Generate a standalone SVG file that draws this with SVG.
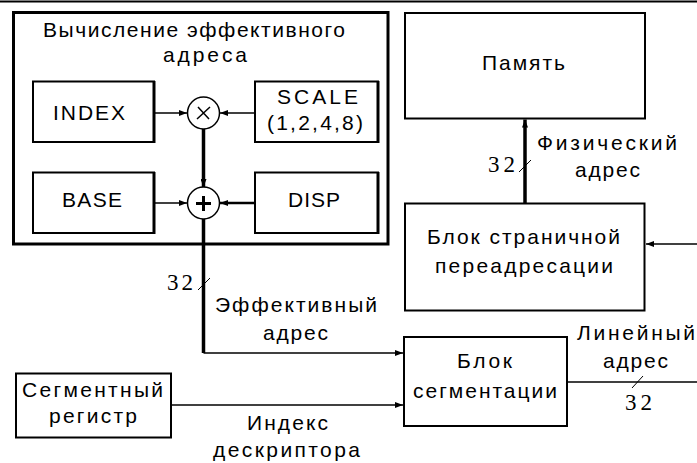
<svg xmlns="http://www.w3.org/2000/svg" width="697" height="463" viewBox="0 0 697 463">
<style>
text{font-family:"Liberation Sans",Arial,sans-serif;font-size:21px;fill:#000}
text.n{font-family:"Liberation Serif","Times New Roman",serif;font-size:23px}
.box{fill:#fff;stroke:#000;stroke-width:2}
.thin{fill:none;stroke:#000;stroke-width:1.5}
.thick{fill:none;stroke:#000;stroke-width:3.5}
.tick{fill:none;stroke:#000;stroke-width:1}
</style>
<defs>
<marker id="ah" viewBox="0 0 8 6" refX="8" refY="3" markerWidth="8" markerHeight="6" markerUnits="userSpaceOnUse" orient="auto">
<path d="M0,0 L8,3 L0,6 Z" fill="#000"/>
</marker>
</defs>
<rect width="697" height="463" fill="#fff"/>
<line x1="0" y1="1.5" x2="697" y2="1.5" stroke="#000" stroke-width="2"/>

<g id="ea">
<rect x="13.5" y="12.5" width="374.5" height="231.5" fill="none" stroke="#000" stroke-width="3"/>
<text x="43" y="37" textLength="302" lengthAdjust="spacing">Вычисление эффективного</text>
<text x="163" y="62" textLength="84" lengthAdjust="spacing">адреса</text>
</g>
<g id="index">
<rect class="box" x="33" y="81.5" width="121" height="60.5"/>
<line x1="154" y1="81" x2="154" y2="143" stroke="#000" stroke-width="3"/>
<text x="53" y="120" textLength="72" lengthAdjust="spacing">INDEX</text>
</g>
<g id="scale">
<rect class="box" x="255" y="81.5" width="123" height="60.5"/>
<line x1="378" y1="81" x2="378" y2="143" stroke="#000" stroke-width="3"/>
<text x="277" y="104" textLength="81" lengthAdjust="spacing">SCALE</text>
<text x="267" y="130" textLength="96" lengthAdjust="spacing">(1,2,4,8)</text>
</g>
<g id="base">
<rect class="box" x="33" y="172.5" width="121" height="60.5"/>
<line x1="154" y1="172" x2="154" y2="234" stroke="#000" stroke-width="3"/>
<text x="62" y="207" textLength="60" lengthAdjust="spacing">BASE</text>
</g>
<g id="disp">
<rect class="box" x="255" y="172.5" width="123" height="60.5"/>
<line x1="378" y1="172" x2="378" y2="234" stroke="#000" stroke-width="3"/>
<text x="288" y="207" textLength="52" lengthAdjust="spacing">DISP</text>
</g>
<g id="mul">
<circle cx="203.5" cy="113" r="16" fill="#fff" stroke="#000" stroke-width="1.5"/>
<path d="M197,119 L210,107 M198,107 L209,119" fill="none" stroke="#000" stroke-width="1.5"/>
</g>
<g id="add">
<circle cx="203.5" cy="203" r="16" fill="#fff" stroke="#000" stroke-width="1.5"/>
<path d="M196,203.5 L211,203.5 M203.5,196 L203.5,211" fill="none" stroke="#000" stroke-width="3"/>
</g>
<g id="mem">
<rect class="box" x="405" y="13" width="240" height="105.5"/>
<text x="482" y="70" textLength="83" lengthAdjust="spacing">Память</text>
</g>
<g id="page">
<rect class="box" x="405" y="203.5" width="239.5" height="107"/>
<text x="427" y="244" textLength="193" lengthAdjust="spacing">Блок страничной</text>
<text x="435" y="273" textLength="178" lengthAdjust="spacing">переадресации</text>
</g>
<g id="seg">
<rect class="box" x="404" y="337" width="163" height="89"/>
<text x="457" y="368" textLength="55" lengthAdjust="spacing">Блок</text>
<text x="413" y="398" textLength="144" lengthAdjust="spacing">сегментации</text>
</g>
<g id="segreg">
<rect class="box" x="16" y="373.5" width="155" height="64"/>
<text x="22" y="397" textLength="141" lengthAdjust="spacing">Сегментный</text>
<text x="49" y="423" textLength="88" lengthAdjust="spacing">регистр</text>
</g>

<g id="connectors">
<line class="thin" x1="155" y1="113" x2="187" y2="113" marker-end="url(#ah)"/>
<line class="thin" x1="254" y1="113" x2="220" y2="113" marker-end="url(#ah)"/>
<line class="thin" x1="155" y1="203" x2="187" y2="203" marker-end="url(#ah)"/>
<line x1="254" y1="203" x2="220" y2="203" stroke="#000" stroke-width="2.5" marker-end="url(#ah)"/>
<line class="thick" x1="203.5" y1="129" x2="203.5" y2="187" marker-end="url(#ah)"/>
<polyline class="thick" points="203.5,219 203.5,353"/>
<line class="thin" x1="203.5" y1="353" x2="403" y2="353" marker-end="url(#ah)"/>
<line class="thin" x1="171" y1="405" x2="403" y2="405" marker-end="url(#ah)"/>
<line class="thick" x1="525" y1="203" x2="525" y2="119.5" marker-end="url(#ah)"/>
<line class="thin" x1="567" y1="382" x2="697" y2="382"/>
<line class="thin" x1="697" y1="244" x2="646" y2="244" marker-end="url(#ah)"/>
<line class="tick" x1="198" y1="290" x2="210" y2="278"/>
<line class="tick" x1="519" y1="172" x2="531" y2="160"/>
<line class="tick" x1="632" y1="388" x2="643" y2="376"/>
<text class="n" x="167" y="290" textLength="26" lengthAdjust="spacing">32</text>
<text class="n" x="488" y="172" textLength="27" lengthAdjust="spacing">32</text>
<text class="n" x="625" y="410" textLength="27" lengthAdjust="spacing">32</text>
<text x="537" y="150" textLength="140" lengthAdjust="spacing">Физический</text>
<text x="575" y="177" textLength="65" lengthAdjust="spacing">адрес</text>
<text x="215" y="312" textLength="162" lengthAdjust="spacing">Эффективный</text>
<text x="263" y="340" textLength="65" lengthAdjust="spacing">адрес</text>
<text x="247" y="430" textLength="81" lengthAdjust="spacing">Индекс</text>
<text x="213" y="457" textLength="147" lengthAdjust="spacing">дескриптора</text>
<text x="577" y="340" textLength="118" lengthAdjust="spacing">Линейный</text>
<text x="603" y="368" textLength="65" lengthAdjust="spacing">адрес</text>
</g>
</svg>
